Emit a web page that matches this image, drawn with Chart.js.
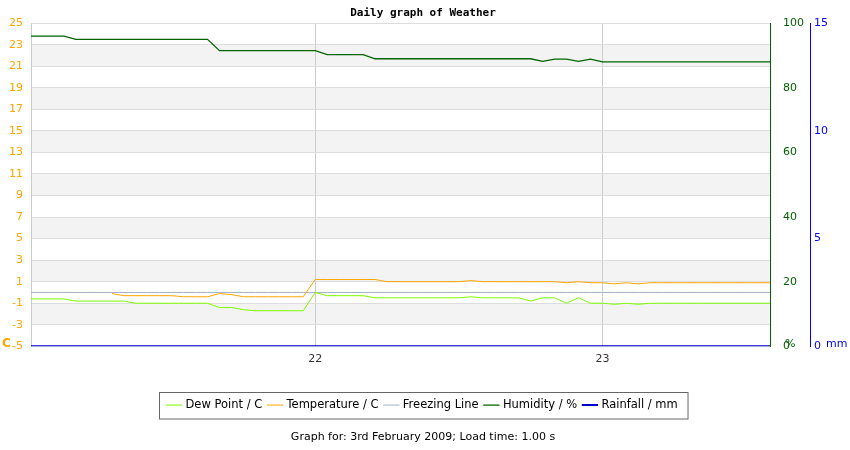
<!DOCTYPE html>
<html>
<head>
<meta charset="utf-8">
<script src="https://cdn.jsdelivr.net/npm/chart.js@4"></script>
<style>
  body { margin: 0; background: #fff; }
  #wrap { width: 850px; height: 450px; }
</style>
</head>
<body>
<div id="wrap"><canvas id="weather"></canvas></div>
<script>
// hours since midnight of the 21st
let hours = [];
for (let h = 0; h <= 62; h++) hours.push(h);
let dayTicks = [24, 48];
let dayLabels = { 24: '22', 48: '23' };

let dewPoint = [-0.6, -0.6, -0.6, -0.6, -0.8, -0.8, -0.8, -0.8, -0.8, -1.0, -1.0, -1.0, -1.0, -1.0, -1.0, -1.0,
  -1.4, -1.4, -1.6, -1.7, -1.7, -1.7, -1.7, -1.7, 0.0, -0.3, -0.3, -0.3, -0.3, -0.5, -0.5, -0.5, -0.5, -0.5,
  -0.5, -0.5, -0.5, -0.4, -0.5, -0.5, -0.5, -0.5, -0.8, -0.5, -0.5, -1.0, -0.5, -1.0, -1.0, -1.1, -1.0, -1.1,
  -1.0, -1.0, -1.0, -1.0, -1.0, -1.0, -1.0, -1.0, -1.0, -1.0, -1.0];
let temperature = [null, null, null, null, null, null, null, -0.1, -0.3, -0.3, -0.3, -0.3, -0.3, -0.4, -0.4, -0.4,
  -0.1, -0.2, -0.4, -0.4, -0.4, -0.4, -0.4, -0.4, 1.2, 1.2, 1.2, 1.2, 1.2, 1.2, 1.0, 1.0, 1.0, 1.0,
  1.0, 1.0, 1.0, 1.1, 1.0, 1.0, 1.0, 1.0, 1.0, 1.0, 1.0, 0.9, 1.0, 0.9, 0.9, 0.8, 0.9, 0.8,
  0.9, 0.9, 0.9, 0.9, 0.9, 0.9, 0.9, 0.9, 0.9, 0.9, 0.9];
let freezing = hours.map(() => 0);
let humidity = [96, 96, 96, 96, 95, 95, 95, 95, 95, 95, 95, 95, 95, 95, 95, 95,
  91.5, 91.5, 91.5, 91.5, 91.5, 91.5, 91.5, 91.5, 91.5, 90.3, 90.3, 90.3, 90.3, 89, 89, 89, 89, 89,
  89, 89, 89, 89, 89, 89, 89, 89, 89, 88.2, 88.9, 88.9, 88.2, 88.9, 88, 88, 88, 88,
  88, 88, 88, 88, 88, 88, 88, 88, 88, 88, 88];
let rainfall = hours.map(() => 0);

const font = "'DejaVu Sans', sans-serif";

function series(label, values, color, axis, width) {
  return {
    label: label,
    data: hours.map((h, i) => ({ x: h, y: values[i] })),
    borderColor: color,
    backgroundColor: color,
    borderWidth: width || 1,
    pointRadius: 0,
    tension: 0,
    yAxisID: axis,
    spanGaps: false
  };
}

const extras = {
  id: 'extras',
  beforeDraw(chart) {
    const { ctx, chartArea: a, scales } = chart;
    const y = scales.y;
    ctx.save();
    ctx.fillStyle = '#f3f3f3';
    for (let v = 23; v > -5; v -= 4) {
      ctx.fillRect(a.left, y.getPixelForValue(v), a.right - a.left, y.getPixelForValue(v - 2) - y.getPixelForValue(v));
    }
    ctx.restore();
  },
  afterDraw(chart) {
    const { ctx, chartArea: a, scales, legend } = chart;
    ctx.save();
    ctx.fillStyle = 'orange';
    ctx.font = 'bold 12px ' + font;
    ctx.fillText('C', 2, a.bottom - 2);
    ctx.font = '11px ' + font;
    ctx.fillStyle = '#006400';
    ctx.fillText('%', scales.y1.left + 15, a.bottom - 2);
    ctx.fillStyle = 'blue';
    ctx.fillText('mm', scales.y2.left + 16, a.bottom - 2);
    // legend frame
    ctx.strokeStyle = '#666';
    ctx.lineWidth = 1;
    const lw = legend.legendItems.length ? legend.lineWidths[0] : 0;
    const cx = (legend.left + legend.right) / 2;
    ctx.strokeRect(Math.round(cx - lw / 2 - 6) + 0.5, Math.round(legend.top) + 0.5, lw + 12, legend.height - 2);
    ctx.restore();
  }
};

new Chart(document.getElementById('weather'), {
  type: 'line',
  data: {
    datasets: [
      series('Dew Point / C', dewPoint, '#7cfc00', 'y'),
      series('Temperature / C', temperature, 'orange', 'y'),
      series('Freezing Line', freezing, '#a0b0c8', 'y'),
      series('Humidity / %', humidity, '#006400', 'y1', 1.3),
      series('Rainfall / mm', rainfall, '#0000cd', 'y2', 2)
    ]
  },
  options: {
    responsive: true,
    maintainAspectRatio: false,
    animation: false,
    layout: { padding: { left: 0, right: 4, top: 0, bottom: 0 } },
    plugins: {
      title: {
        display: true,
        text: 'Daily graph of Weather',
        font: { family: "'DejaVu Sans Mono', monospace", size: 11, weight: 'bold' },
        color: '#000',
        padding: { top: 7, bottom: 3 }
      },
      subtitle: {
        display: true,
        position: 'bottom',
        text: 'Graph for: 3rd February 2009; Load time: 1.00 s',
        font: { family: font, size: 11 },
        color: '#000',
        padding: { top: 10, bottom: 6 }
      },
      legend: {
        position: 'bottom',
        labels: {
          usePointStyle: true,
          pointStyle: 'line',
          boxWidth: 12,
          color: '#000',
          font: { family: font, size: 11.5 },
          padding: 7
        }
      },
      tooltip: { enabled: false }
    },
    scales: {
      x: {
        type: 'linear',
        min: 0.25,
        max: 62,
        afterBuildTicks: axis => { axis.ticks = dayTicks.map(v => ({ value: v })); },
        ticks: {
          callback: v => dayLabels[v],
          color: '#333',
          font: { family: font, size: 11 },
          padding: 6
        },
        grid: { color: '#ccc', drawTicks: false },
        border: { display: false },
        afterFit: axis => { axis.height = 46; }
      },
      y: {
        position: 'left',
        min: -5,
        max: 25,
        ticks: { stepSize: 2, color: 'orange', font: { family: font, size: 11 }, padding: 8 },
        grid: { color: '#ddd', drawTicks: false },
        border: { color: '#ccc' },
        afterFit: axis => { axis.width = 31; }
      },
      y1: {
        position: 'right',
        min: 0,
        max: 100,
        ticks: { stepSize: 20, color: '#006400', font: { family: font, size: 11 }, padding: 5 },
        grid: { display: false },
        border: { color: '#006400' },
        afterFit: axis => { axis.width = 40; }
      },
      y2: {
        position: 'right',
        min: 0,
        max: 15,
        ticks: { stepSize: 5, color: 'blue', font: { family: font, size: 11 }, padding: 4 },
        grid: { display: false, drawTicks: false },
        border: { color: 'blue' },
        afterFit: axis => { axis.width = 36; }
      }
    }
  },
  plugins: [extras]
});
</script>
</body>
</html>
